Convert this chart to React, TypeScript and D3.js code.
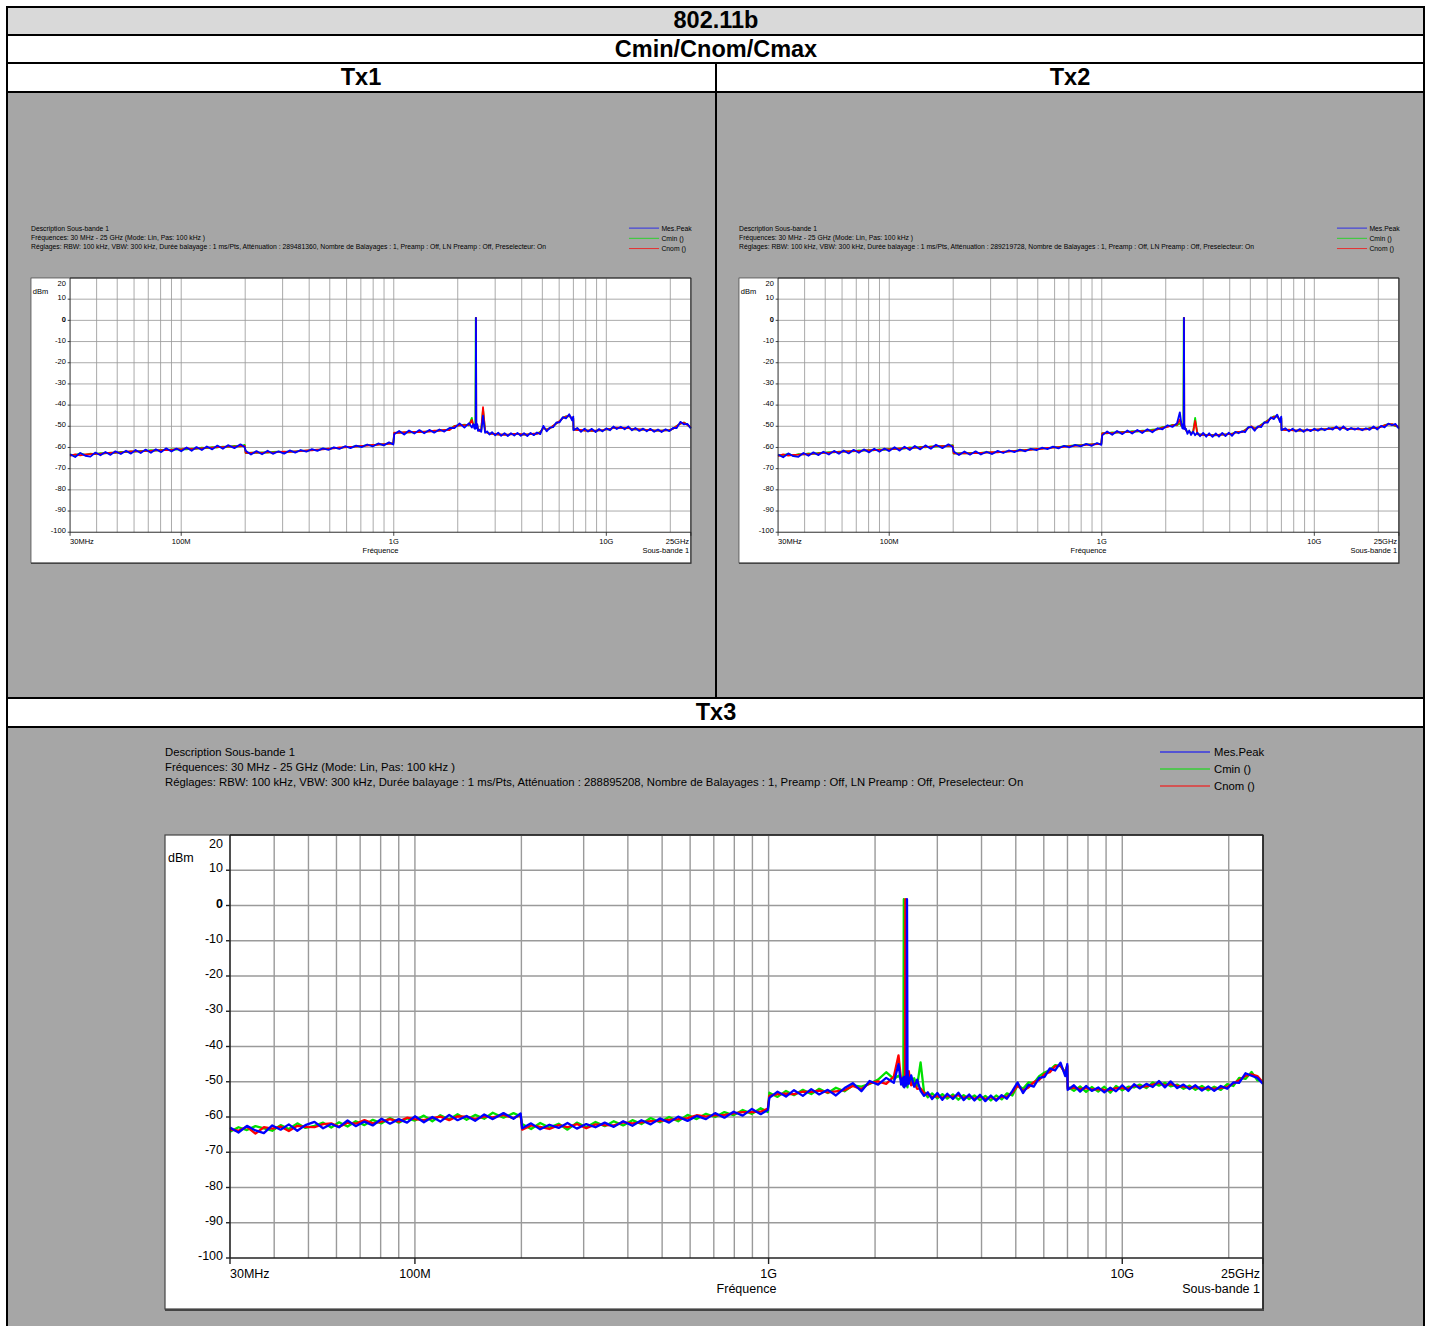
import * as React from "react"
import * as d3 from "d3"

// frequency grid, MHz
const freqs = [
  30, 31.7, 33.5, 35.4, 37.4, 39.5, 41.7, 44, 46.5, 49, 52, 55, 58, 61, 64.5, 68, 72, 76, 80.5, 85, 90, 95,
  100, 106, 112, 118, 125, 132, 140, 148, 157, 166, 178, 190, 199,
  201, 213, 226, 240, 255, 270, 287, 305, 324, 344, 365, 388, 412, 437, 464, 493, 523, 555, 590, 626, 665, 706, 750, 796, 845, 897, 950, 995,
  1005, 1060, 1120, 1180, 1250, 1320, 1390, 1470, 1550, 1640, 1730, 1830, 1930, 2040, 2150, 2260, 2330,
  2370, 2395, 2405, 2412, 2420, 2430, 2437, 2445, 2455, 2462, 2470, 2490, 2530, 2580, 2630, 2690, 2750,
  2820, 2900, 3000, 3100, 3200, 3320, 3440, 3560, 3690, 3820, 3960, 4100, 4250, 4400, 4560, 4720, 4890, 5060, 5240, 5430, 5620, 5820, 6030, 6240, 6460, 6690, 6900, 6990,
  7010, 7300, 7600, 7900, 8200, 8550, 8900, 9250, 9600, 10000, 10400, 10800, 11200, 11700, 12200, 12700, 13200, 13700, 14300, 14900, 15500, 16100, 16800, 17500, 18200, 19000, 19800, 20600, 21400, 22300, 23200, 24100, 25000,
]

// Tx1
const tx1Peak = [
  -63.2, -64.5, -62.6, -63.9, -64.3, -62.4, -63.7, -62.1, -63.5, -61.8, -63.1, -61.5, -62.9, -61.2, -62.6, -61.0, -62.5, -60.8, -62.2, -60.4, -61.9, -60.5,
  -61.8, -60.0, -61.6, -59.8, -61.2, -59.5, -60.9, -59.1, -60.6, -58.9, -60.3, -58.5, -59.9,
  -61.6, -63.3, -61.7, -63.2, -61.5, -63.0, -61.8, -62.9, -61.4, -62.4, -61.2, -62.0, -60.8, -61.6, -60.4, -61.1, -59.9, -60.7, -59.4, -60.3, -59.1, -59.8, -58.6, -59.5, -58.1, -59.0, -57.6, -58.6,
  -53.7, -52.2, -53.9, -52.0, -53.4, -51.8, -53.3, -51.7, -53.0, -51.5, -52.5, -50.8, -50.9, -48.6, -50.6, -48.5, -50.6,
  -49.0, -51.0, -49.2, -51.2, -49.6, -51.1, 1.2, -48.5, -50.9, -50.2, -49.0, -52.2, -51.6, -52.6, -45.0, -53.1, -52.4,
  -53.9, -52.8, -54.3, -53.0, -54.5, -53.2, -54.6, -53.3, -54.4, -53.1, -54.5, -53.2, -54.6, -53.1, -54.2, -52.9, -53.7, -49.8, -52.4, -50.6, -50.4, -48.2, -48.1, -45.7, -46.3, -44.3, -47.2, -45.4,
  -51.8, -50.8, -52.6, -51.1, -52.5, -51.2, -52.7, -51.3, -52.4, -51.0, -51.9, -50.1, -51.3, -50.2, -51.4, -50.1, -51.9, -50.8, -52.2, -51.1, -52.4, -51.2, -52.6, -51.5, -52.7, -51.4, -52.3, -50.8, -50.9, -47.9, -49.1, -48.9, -51.0,
]
const tx1Cmin = [
  -63.4, -63.6, -62.8, -63.5, -62.9, -63.1, -62.7, -62.8, -62.4, -62.5, -62.1, -62.2, -61.8, -62.0, -61.6, -61.7, -61.3, -61.5, -61.1, -61.2, -60.9, -61.0,
  -60.8, -60.9, -60.5, -60.6, -60.1, -60.3, -59.8, -60.0, -59.6, -59.7, -59.3, -59.5, -58.8,
  -62.6, -62.4, -62.5, -62.3, -62.4, -62.1, -62.0, -62.2, -61.9, -62.0, -61.5, -61.6, -61.1, -61.2, -60.6, -60.8, -60.2, -60.4, -59.7, -59.9, -59.3, -59.5, -58.8, -59.0, -58.4, -58.6, -58.0, -58.2,
  -53.2, -52.9, -53.0, -52.7, -52.8, -52.5, -52.6, -52.3, -52.3, -51.9, -51.8, -51.5, -49.8, -49.6, -49.2, -49.5, -46.0,
  -50.0, -49.9, -50.3, -50.2, -50.5, 1.2, -50.0, -49.2, -49.6, -50.6, -49.8, -51.2, -52.0, -51.5, -42.0, -52.2, -52.9,
  -53.5, -53.4, -53.8, -53.7, -54.0, -53.8, -54.1, -53.6, -53.8, -53.6, -53.9, -53.8, -53.9, -53.5, -53.7, -53.4, -52.6, -50.9, -51.5, -50.9, -49.9, -48.6, -47.7, -46.0, -45.3, -45.2, -46.2, -46.4,
  -51.6, -51.7, -51.9, -51.9, -52.1, -52.0, -52.2, -51.8, -51.9, -51.3, -51.4, -50.6, -50.7, -50.7, -50.9, -50.7, -51.4, -51.3, -51.6, -51.5, -51.8, -51.7, -52.0, -51.9, -52.1, -51.8, -51.9, -51.1, -49.9, -48.8, -48.2, -49.3, -50.8,
]
const tx1Cnom = [
  -64.0, -63.2, -63.7, -63.3, -63.1, -62.9, -63.0, -62.6, -62.5, -62.3, -62.4, -62.0, -61.9, -61.8, -61.8, -61.6, -61.6, -61.3, -61.4, -61.1, -61.2, -60.7,
  -61.0, -60.3, -60.8, -60.4, -60.4, -60.1, -60.1, -59.8, -59.8, -59.5, -59.6, -59.3, -59.2,
  -62.5, -62.6, -62.3, -62.5, -62.2, -62.4, -62.1, -62.0, -62.1, -61.8, -61.7, -61.4, -61.3, -61.0, -60.9, -60.5, -60.4, -60.0, -59.9, -59.7, -59.6, -59.2, -59.1, -58.8, -58.7, -58.4, -58.3, -58.0,
  -53.0, -53.1, -52.8, -52.9, -52.6, -52.7, -52.5, -52.5, -52.1, -52.1, -51.7, -51.8, -49.9, -49.5, -49.5, -49.3, -47.0,
  -49.8, -50.1, -50.1, -50.4, -50.3, -50.5, 1.2, -49.0, -49.8, -50.8, -49.4, -51.4, -52.2, -51.6, -41.0, -52.3, -53.0,
  -53.3, -53.6, -53.6, -53.9, -53.8, -54.0, -53.9, -53.8, -53.6, -53.7, -53.7, -53.9, -53.8, -53.7, -53.5, -53.6, -52.8, -50.7, -51.6, -51.0, -49.7, -48.7, -47.5, -46.1, -45.4, -45.0, -46.3, -46.2,
  -51.4, -51.8, -51.7, -52.0, -51.9, -52.1, -52.0, -51.9, -51.8, -51.4, -51.3, -50.7, -50.6, -50.8, -50.7, -50.8, -51.3, -51.4, -51.5, -51.6, -51.7, -51.8, -51.9, -52.0, -52.0, -51.9, -51.8, -51.2, -50.0, -48.7, -48.3, -49.4, -50.6,
]

// Tx2
const tx2Peak = [
  -63.3, -64.6, -62.8, -64.1, -64.4, -62.6, -63.9, -62.3, -63.6, -62.0, -63.3, -61.6, -63.0, -61.4, -62.8, -61.1, -62.5, -60.9, -62.3, -60.6, -62.0, -60.5,
  -61.7, -59.9, -61.5, -59.6, -61.2, -59.3, -60.9, -59.0, -60.6, -58.7, -60.3, -58.5, -59.8,
  -61.9, -63.6, -61.9, -63.4, -61.8, -63.3, -62.0, -63.1, -61.6, -62.6, -61.4, -62.2, -61.0, -61.8, -60.6, -61.3, -60.1, -60.8, -59.6, -60.4, -59.2, -59.9, -58.8, -59.5, -58.3, -59.2, -57.9, -58.8,
  -54.3, -52.4, -54.0, -52.2, -53.7, -52.0, -53.4, -51.7, -53.2, -51.4, -52.8, -50.9, -51.4, -49.5, -50.3, -48.6, -43.4,
  -48.8, -50.9, -49.1, -51.1, -49.5, -51.2, 1.2, -48.7, -50.9, -50.6, -51.5, -51.2, -53.6, -52.0, -54.1, -52.5, -54.2,
  -53.0, -54.7, -53.1, -54.9, -53.3, -55.0, -53.4, -54.9, -53.1, -54.6, -53.0, -54.5, -52.6, -53.3, -52.4, -52.8, -50.4, -50.3, -52.1, -50.0, -50.4, -48.1, -48.3, -45.8, -46.6, -44.5, -48.0, -45.4,
  -51.8, -50.9, -52.4, -51.1, -52.5, -51.3, -52.6, -51.4, -52.3, -51.2, -52.1, -51.0, -51.9, -50.8, -51.6, -50.1, -51.7, -50.0, -51.8, -50.8, -51.6, -50.9, -51.9, -50.9, -51.7, -50.1, -51.5, -49.8, -50.5, -48.7, -49.5, -48.9, -51.1,
]
const tx2Cmin = [
  -63.5, -63.6, -63.0, -63.8, -63.1, -63.3, -62.8, -63.0, -62.6, -62.5, -62.2, -62.3, -62.0, -61.9, -61.7, -61.8, -61.4, -61.5, -61.2, -61.3, -60.9, -61.1,
  -60.7, -60.8, -60.4, -60.5, -60.0, -60.2, -59.7, -59.9, -59.5, -59.6, -59.2, -59.3, -58.9,
  -62.9, -62.7, -62.8, -62.6, -62.6, -62.5, -62.2, -62.4, -62.1, -62.2, -61.7, -61.7, -61.2, -61.3, -60.8, -60.9, -60.4, -60.3, -59.9, -59.8, -59.4, -59.3, -58.9, -58.9, -58.5, -58.5, -58.2, -58.4,
  -53.2, -53.3, -52.9, -53.0, -52.7, -52.7, -52.3, -52.5, -52.1, -52.1, -51.6, -51.4, -50.4, -50.0, -49.3, -49.5, -48.6,
  -49.9, -50.0, -50.1, -50.3, -50.4, 1.2, -50.2, -49.8, -50.0, -51.0, -50.9, -51.8, -52.6, -52.6, -53.1, -52.7, -46.0,
  -53.8, -53.8, -54.1, -54.0, -54.2, -54.1, -54.3, -54.0, -53.9, -53.8, -53.7, -53.5, -52.8, -52.8, -52.6, -51.8, -50.6, -50.2, -51.0, -50.4, -49.3, -48.2, -47.3, -46.2, -45.3, -45.4, -46.9, -46.3,
  -51.6, -51.6, -51.8, -51.8, -52.0, -51.9, -52.0, -51.8, -51.8, -51.6, -51.6, -51.4, -51.4, -51.2, -50.8, -50.9, -50.8, -50.9, -51.3, -51.1, -51.2, -51.3, -51.4, -51.3, -50.8, -50.8, -50.6, -50.1, -49.5, -49.0, -49.1, -49.9, -50.3,
]
const tx2Cnom = [
  -64.1, -63.3, -63.8, -63.5, -63.4, -63.1, -63.2, -62.9, -62.8, -62.4, -62.5, -62.1, -62.2, -61.8, -61.9, -61.6, -61.7, -61.4, -61.4, -61.1, -61.2, -60.9,
  -60.9, -60.6, -60.6, -60.3, -60.3, -60.1, -60.0, -59.7, -59.7, -59.4, -59.4, -59.2, -59.1,
  -62.8, -62.9, -62.6, -62.8, -62.5, -62.6, -62.4, -62.2, -62.3, -62.0, -61.9, -61.6, -61.5, -61.2, -61.1, -60.7, -60.6, -60.2, -60.1, -59.8, -59.7, -59.4, -59.2, -59.0, -58.8, -58.6, -58.4, -58.3,
  -53.4, -53.1, -53.2, -52.9, -52.9, -52.6, -52.6, -52.3, -52.3, -52.0, -51.9, -51.5, -50.6, -50.3, -49.5, -49.3, -46.8,
  -49.7, -50.1, -49.9, -50.4, -50.2, -50.5, 1.2, -49.5, -50.2, -51.2, -50.8, -52.0, -52.8, -52.5, -53.3, -52.8, -47.5,
  -53.6, -54.0, -53.9, -54.2, -54.1, -54.3, -54.1, -54.1, -53.8, -53.9, -53.6, -53.7, -53.0, -52.6, -52.8, -51.9, -50.8, -50.0, -51.2, -50.5, -49.5, -48.5, -47.4, -46.3, -45.5, -45.2, -47.1, -46.1,
  -51.4, -51.8, -51.6, -51.9, -51.9, -52.0, -51.9, -51.9, -51.7, -51.7, -51.5, -51.5, -51.3, -51.3, -50.9, -50.8, -50.9, -50.8, -51.2, -51.2, -51.1, -51.4, -51.3, -51.4, -51.0, -50.7, -50.7, -50.3, -49.6, -49.1, -49.0, -49.7, -50.4,
]

// Tx3
const tx3Peak = [
  -63.0, -64.4, -62.5, -63.8, -64.6, -62.4, -63.6, -62.1, -63.9, -62.3, -61.4, -63.2, -62.0, -62.9, -61.0, -62.6, -61.3, -62.4, -60.5, -61.9, -60.6, -61.6,
  -59.8, -61.5, -60.0, -61.3, -59.4, -60.9, -59.7, -61.1, -59.3, -60.6, -58.9, -60.5, -59.0,
  -63.2, -61.8, -63.5, -62.2, -63.1, -61.7, -63.3, -62.0, -62.9, -61.6, -62.8, -61.2, -62.5, -60.9, -62.1, -60.4, -61.6, -59.9, -61.1, -59.7, -60.6, -58.9, -60.2, -58.5, -59.6, -57.7, -59.2, -58.0,
  -54.6, -52.8, -54.2, -52.4, -54.0, -52.1, -53.6, -52.3, -53.9, -51.8, -50.4, -52.7, -49.8, -50.8, -48.9, -50.3, -45.0,
  -50.8, -49.0, -51.3, -48.6, -51.6, -49.7, -50.9, -48.4, -51.1, 1.8, -47.0, -50.6, -48.2, -51.4, -49.4, -52.6, -54.0,
  -53.0, -54.9, -53.2, -55.1, -53.4, -54.9, -53.1, -55.2, -53.6, -55.3, -53.7, -55.5, -53.9, -55.4, -53.8, -54.8, -52.6, -50.2, -53.2, -50.9, -51.4, -48.9, -48.6, -46.2, -46.8, -44.6, -48.4, -45.0,
  -52.3, -51.0, -52.8, -51.2, -52.6, -51.6, -53.0, -51.7, -52.7, -51.0, -52.6, -50.7, -51.9, -50.6, -51.5, -49.8, -51.6, -49.9, -51.8, -50.8, -52.1, -51.0, -52.5, -51.3, -52.6, -51.2, -52.0, -50.2, -50.3, -47.6, -48.3, -48.9, -50.6,
]
const tx3Cmin = [
  -64.2, -62.9, -63.7, -62.6, -63.2, -63.9, -62.3, -63.4, -61.8, -63.1, -62.5, -61.6, -63.0, -61.5, -62.7, -61.2, -62.3, -60.8, -61.8, -60.3, -61.6, -60.4,
  -61.0, -59.6, -61.2, -59.5, -60.7, -59.2, -60.8, -59.4, -60.5, -58.8, -60.2, -58.9, -59.8,
  -62.0, -63.4, -61.7, -63.0, -61.9, -63.6, -61.6, -62.9, -61.4, -62.6, -61.2, -62.4, -60.9, -62.0, -60.3, -61.5, -60.0, -61.2, -59.4, -60.6, -59.1, -60.0, -58.6, -59.5, -58.0, -59.1, -57.5, -58.6,
  -53.1, -54.3, -52.6, -53.8, -52.3, -53.5, -52.0, -53.2, -51.7, -52.7, -51.0, -51.4, -50.6, -49.4, -47.3, -49.2, -48.3,
  -49.3, -50.9, -47.8, 1.8, -48.0, -51.2, -48.9, -49.4, -48.1, -50.2, -51.6, -47.6, -50.6, -49.0, -51.2, -44.5, -52.8,
  -54.4, -53.3, -54.7, -53.5, -54.8, -53.6, -55.1, -53.8, -54.9, -53.9, -55.2, -54.0, -55.3, -53.9, -55.0, -53.3, -53.9, -51.0, -52.0, -50.2, -50.4, -48.4, -47.4, -46.7, -45.3, -45.6, -47.2, -45.6,
  -51.4, -52.6, -51.3, -52.9, -51.5, -52.8, -51.4, -53.1, -51.2, -52.4, -51.4, -51.6, -50.8, -51.8, -50.2, -51.1, -50.3, -51.3, -50.8, -52.0, -51.1, -52.3, -51.2, -52.4, -51.4, -52.3, -50.7, -51.2, -48.9, -49.2, -47.2, -49.6, -49.8,
]
const tx3Cnom = [
  -63.5, -63.9, -62.8, -64.7, -62.9, -63.3, -62.7, -64.0, -62.5, -62.8, -62.9, -62.0, -61.8, -62.8, -61.6, -61.9, -60.9, -61.8, -61.3, -60.6, -61.3, -60.2,
  -60.6, -60.9, -60.3, -59.9, -60.9, -59.8, -59.9, -60.6, -59.8, -60.1, -59.4, -60.3, -59.4,
  -63.6, -62.4, -62.8, -63.4, -62.3, -62.9, -62.0, -63.2, -62.1, -62.3, -62.4, -61.5, -61.8, -61.5, -61.2, -61.1, -60.8, -60.6, -60.3, -59.5, -59.9, -59.5, -59.4, -59.0, -58.6, -58.6, -58.5, -57.6,
  -54.0, -53.5, -53.4, -53.5, -52.8, -52.9, -52.5, -53.0, -52.7, -52.4, -51.2, -52.1, -50.4, -49.9, -50.6, -48.5, -42.5,
  -49.6, -50.3, -49.8, -51.4, -50.2, -49.5, 1.8, -48.8, -46.0, -49.8, -48.5, -47.0, -51.0, -50.4, -52.0, -51.9, -53.2,
  -53.6, -54.3, -54.1, -54.5, -54.0, -54.3, -53.8, -54.6, -54.1, -54.8, -54.2, -54.9, -54.4, -55.0, -54.2, -54.3, -53.0, -51.1, -52.5, -51.6, -50.1, -49.5, -47.8, -47.3, -45.6, -45.4, -47.7, -45.4,
  -51.9, -51.7, -52.1, -51.8, -52.2, -52.1, -52.3, -52.4, -51.8, -51.8, -52.0, -51.1, -51.4, -51.3, -50.8, -50.3, -51.0, -50.7, -51.2, -51.4, -51.6, -51.6, -51.9, -51.8, -52.0, -51.7, -51.5, -50.5, -49.6, -48.3, -47.9, -48.4, -50.2,
]

const xTickFreqs = [30, 100, 1000, 10000, 25000]
const xTickLabels = ["30MHz", "100M", "1G", "10G", "25GHz"]
const yTicks = [10, 0, -10, -20, -30, -40, -50, -60, -70, -80, -90, -100]
const legendLabels = ["Mes.Peak", "Cmin ()", "Cnom ()"]
const legendColors = ["#0000ff", "#00e000", "#ff0000"]

const FONT = "'Liberation Sans', Arial, Helvetica, sans-serif"

// chart box in local units (Tx3 size)
const W = 1098
const H = 474
const PL = 65
const PB = 423

interface SpectrumProps {
  x: number
  y: number
  k: number
  lw: number
  atten: string
  peak: number[]
  cmin: number[]
  cnom: number[]
}

function Spectrum({ x, y, k, lw, atten, peak, cmin, cnom }: SpectrumProps) {
  const xScale = d3.scaleLog().domain([30, 25000]).range([PL, W])
  const yScale = d3.scaleLinear().domain([-100, 20]).range([PB, 0])
  const line = d3
    .line<number>()
    .x((_d, i) => xScale(freqs[i]))
    .y((d) => yScale(d))
  const gridFreqs = xScale.ticks().filter((f) => f > 30 && f < 25000)
  const sw = lw / k

  return (
    <g transform={`translate(${x},${y}) scale(${k})`} fontFamily={FONT}>
      {/* header */}
      <g fontSize={11.3} fill="#000">
        <text x={0} y={-79}>Description Sous-bande 1</text>
        <text x={0} y={-64}>Fréquences: 30 MHz - 25 GHz (Mode: Lin, Pas: 100 kHz )</text>
        <text x={0} y={-49}>
          {`Réglages: RBW: 100 kHz, VBW: 300 kHz, Durée balayage : 1 ms/Pts, Atténuation : ${atten}, Nombre de Balayages : 1, Preamp : Off, LN Preamp : Off, Preselecteur: On`}
        </text>
      </g>
      {/* legend */}
      {legendLabels.map((lab, i) => (
        <g key={lab}>
          <line x1={995} x2={1045} y1={-83 + i * 17} y2={-83 + i * 17} stroke={legendColors[i]} strokeWidth={1.2} />
          <text x={1049} y={-79 + i * 17} fontSize={11.3}>{lab}</text>
        </g>
      ))}
      {/* box */}
      <rect x={0} y={0} width={W} height={H} fill="#fff" stroke="#444" strokeWidth={1.2} />
      <line x1={0} x2={W + 1} y1={H + 1} y2={H + 1} stroke="#444" strokeWidth={2} />
      {/* grid */}
      <g stroke="#9a9a9a" strokeWidth={1.4}>
        {gridFreqs.map((f) => (
          <line key={f} x1={xScale(f)} x2={xScale(f)} y1={0} y2={PB} />
        ))}
        {yTicks
          .filter((v) => v > -100)
          .map((v) => (
            <line key={v} x1={PL} x2={W} y1={yScale(v)} y2={yScale(v)} />
          ))}
      </g>
      {/* series */}
      <g fill="none" strokeWidth={sw} strokeLinejoin="round">
        <path d={line(cmin) ?? ""} stroke={legendColors[1]} />
        <path d={line(cnom) ?? ""} stroke={legendColors[2]} />
        <path d={line(peak) ?? ""} stroke={legendColors[0]} />
      </g>
      {/* frame */}
      <g stroke="#222" strokeWidth={1.6} fill="none">
        <line x1={PL} x2={W} y1={0} y2={0} />
        <line x1={PL} x2={PL} y1={0} y2={PB} />
        <line x1={PL} x2={W} y1={PB} y2={PB} />
        <line x1={W} x2={W} y1={0} y2={H} />
      </g>
      {/* y axis */}
      <g fontSize={12.5} textAnchor="end">
        {yTicks.map((v) => (
          <g key={v}>
            <line x1={PL - 4} x2={PL} y1={yScale(v)} y2={yScale(v)} stroke="#222" strokeWidth={1.4} />
            <text x={PL - 7} y={yScale(v) + 2} fontWeight={v === 0 ? "bold" : "normal"}>{v}</text>
          </g>
        ))}
        <text x={PL - 7} y={13}>20</text>
      </g>
      <text x={3} y={27} fontSize={12.5}>dBm</text>
      {/* x axis */}
      <g fontSize={12.5}>
        {xTickFreqs.map((f, i) => (
          <g key={f}>
            <line x1={xScale(f)} x2={xScale(f)} y1={PB} y2={PB + 6} stroke="#222" strokeWidth={1.4} />
            <text
              x={i === xTickFreqs.length - 1 ? xScale(f) - 3 : xScale(f)}
              y={PB + 19.5}
              textAnchor={i === 0 ? "start" : i === xTickFreqs.length - 1 ? "end" : "middle"}
            >
              {xTickLabels[i]}
            </text>
          </g>
        ))}
        <text x={(PL + W) / 2} y={PB + 34.5} textAnchor="middle">Fréquence</text>
        <text x={W - 3} y={PB + 34.5} textAnchor="end">Sous-bande 1</text>
      </g>
    </g>
  )
}

export default function App() {
  const L = 7
  const R = 1424
  const mid = 716
  return (
    <svg
      width={1432}
      height={1326}
      style={{ position: "absolute", left: 0, top: 0, display: "block" }}
      fontFamily={FONT}
    >
      <rect x={0} y={0} width={1432} height={1326} fill="#fff" />
      <rect x={L} y={7} width={R - L} height={28} fill="#d9d9d9" />
      <rect x={L} y={92} width={R - L} height={606} fill="#a6a6a6" />
      <rect x={L} y={727} width={R - L} height={600} fill="#a6a6a6" />

      <g fontWeight="bold" fontSize={23.5} textAnchor="middle">
        <text x={mid} y={28}>802.11b</text>
        <text x={mid} y={57}>Cmin/Cnom/Cmax</text>
        <text x={361} y={85}>Tx1</text>
        <text x={1070} y={85}>Tx2</text>
        <text x={mid} y={720}>Tx3</text>
      </g>

      <g stroke="#000" strokeWidth={2}>
        {[7, 35, 63, 92, 698, 727].map((yy) => (
          <line key={yy} x1={L - 1} x2={R + 1} y1={yy} y2={yy} />
        ))}
        <line x1={L} x2={L} y1={6} y2={1326} />
        <line x1={R} x2={R} y1={6} y2={1326} />
        <line x1={mid} x2={mid} y1={63} y2={698} />
      </g>

      <Spectrum x={31} y={278} k={0.601} lw={1.8} atten="289481360" peak={tx1Peak} cmin={tx1Cmin} cnom={tx1Cnom} />
      <Spectrum x={739} y={278} k={0.601} lw={1.8} atten="289219728" peak={tx2Peak} cmin={tx2Cmin} cnom={tx2Cnom} />
      <Spectrum x={165} y={835} k={1} lw={2.3} atten="288895208" peak={tx3Peak} cmin={tx3Cmin} cnom={tx3Cnom} />
    </svg>
  )
}
